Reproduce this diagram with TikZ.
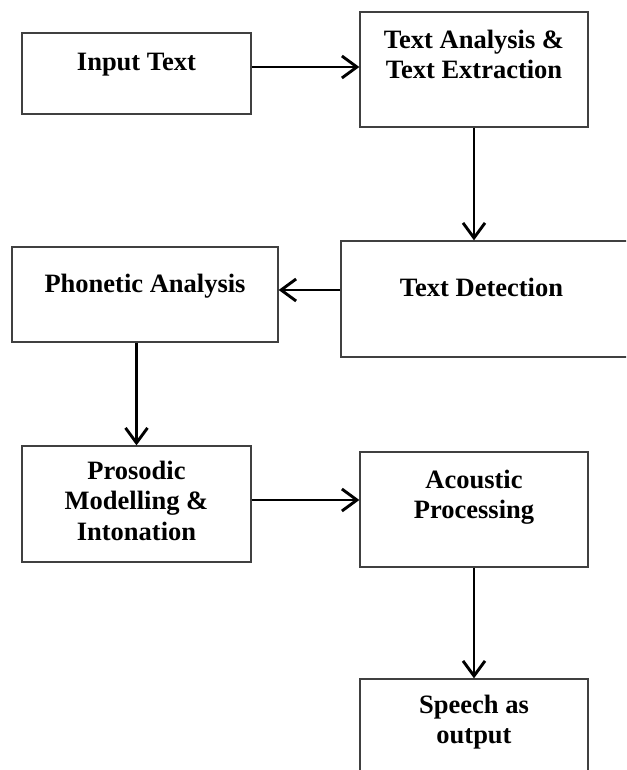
\documentclass[tikz,border=0pt]{standalone}
\usepackage{fontspec}
\setmainfont{Liberation Serif}
\usetikzlibrary{arrows.meta}

\begin{document}
\begin{tikzpicture}[x=1pt, y=-1pt,
    box/.style={draw=black!75, line width=1.3pt, rectangle, inner sep=0pt},
    lbl/.style={font=\fontsize{26.5}{30.5}\selectfont\bfseries, align=center, inner sep=0pt, anchor=north},
    flow/.style={-{Straight Barb[length=15pt, width=22pt]}, line width=2.9pt}]
    \useasboundingbox (0,0) rectangle (626,770);
    \clip (0,0) rectangle (626,770);

    % Boxes (left column and right column)
    \node[box, minimum width=229pt, minimum height=81pt] (input) at (136.5, 73.5) {};
    \node[box, minimum width=228pt, minimum height=115pt] (textana) at (474, 69.5) {};
    \node[box, minimum width=287pt, minimum height=116pt] (detect) at (484.5, 299) {};
    \node[box, minimum width=266pt, minimum height=95pt] (phon) at (145, 294.5) {};
    \node[box, minimum width=229pt, minimum height=116pt] (pros) at (136.5, 504) {};
    \node[box, minimum width=228pt, minimum height=115pt] (acou) at (474, 509.5) {};
    \node[box, minimum width=228pt, minimum height=111pt] (speech) at (474, 734.5) {};

    % Labels near the top of each box
    \node[lbl] (inputlbl) at ([yshift=-20.5pt]input.north) {Input Text};
    \node[lbl] (textanalbl) at ([yshift=-18.5pt]textana.north) {Text Analysis \&\\Text Extraction};
    \node[lbl] (detectlbl) at ([xshift=-3pt, yshift=-37.5pt]detect.north) {Text Detection};
    \node[lbl] (phonlbl) at ([yshift=-27.5pt]phon.north) {Phonetic Analysis};
    \node[lbl] (proslbl) at ([yshift=-15.5pt]pros.north) {Prosodic\\Modelling \&\\Intonation};
    \node[lbl] (acoulbl) at ([yshift=-18.5pt]acou.north) {Acoustic\\Processing};
    \node[lbl] (speechlbl) at ([yshift=-16.5pt]speech.north) {Speech as\\output};

    % Connections
    \draw[flow] ([yshift=6.5pt]input.east) -- ([yshift=6.5pt]input.east -| textana.west);
    \draw[flow] (textana.south) -- (textana.south |- detect.north);
    \draw[flow] ([yshift=4.5pt]phon.east -| detect.west) -- ([yshift=4.5pt]phon.east);
    \draw[flow] (pros.north |- phon.south) -- (pros.north);
    \draw[flow] ([yshift=4pt]pros.east) -- ([yshift=4pt]pros.east -| acou.west);
    \draw[flow] (acou.south) -- (speech.north);
\end{tikzpicture}
\end{document}
